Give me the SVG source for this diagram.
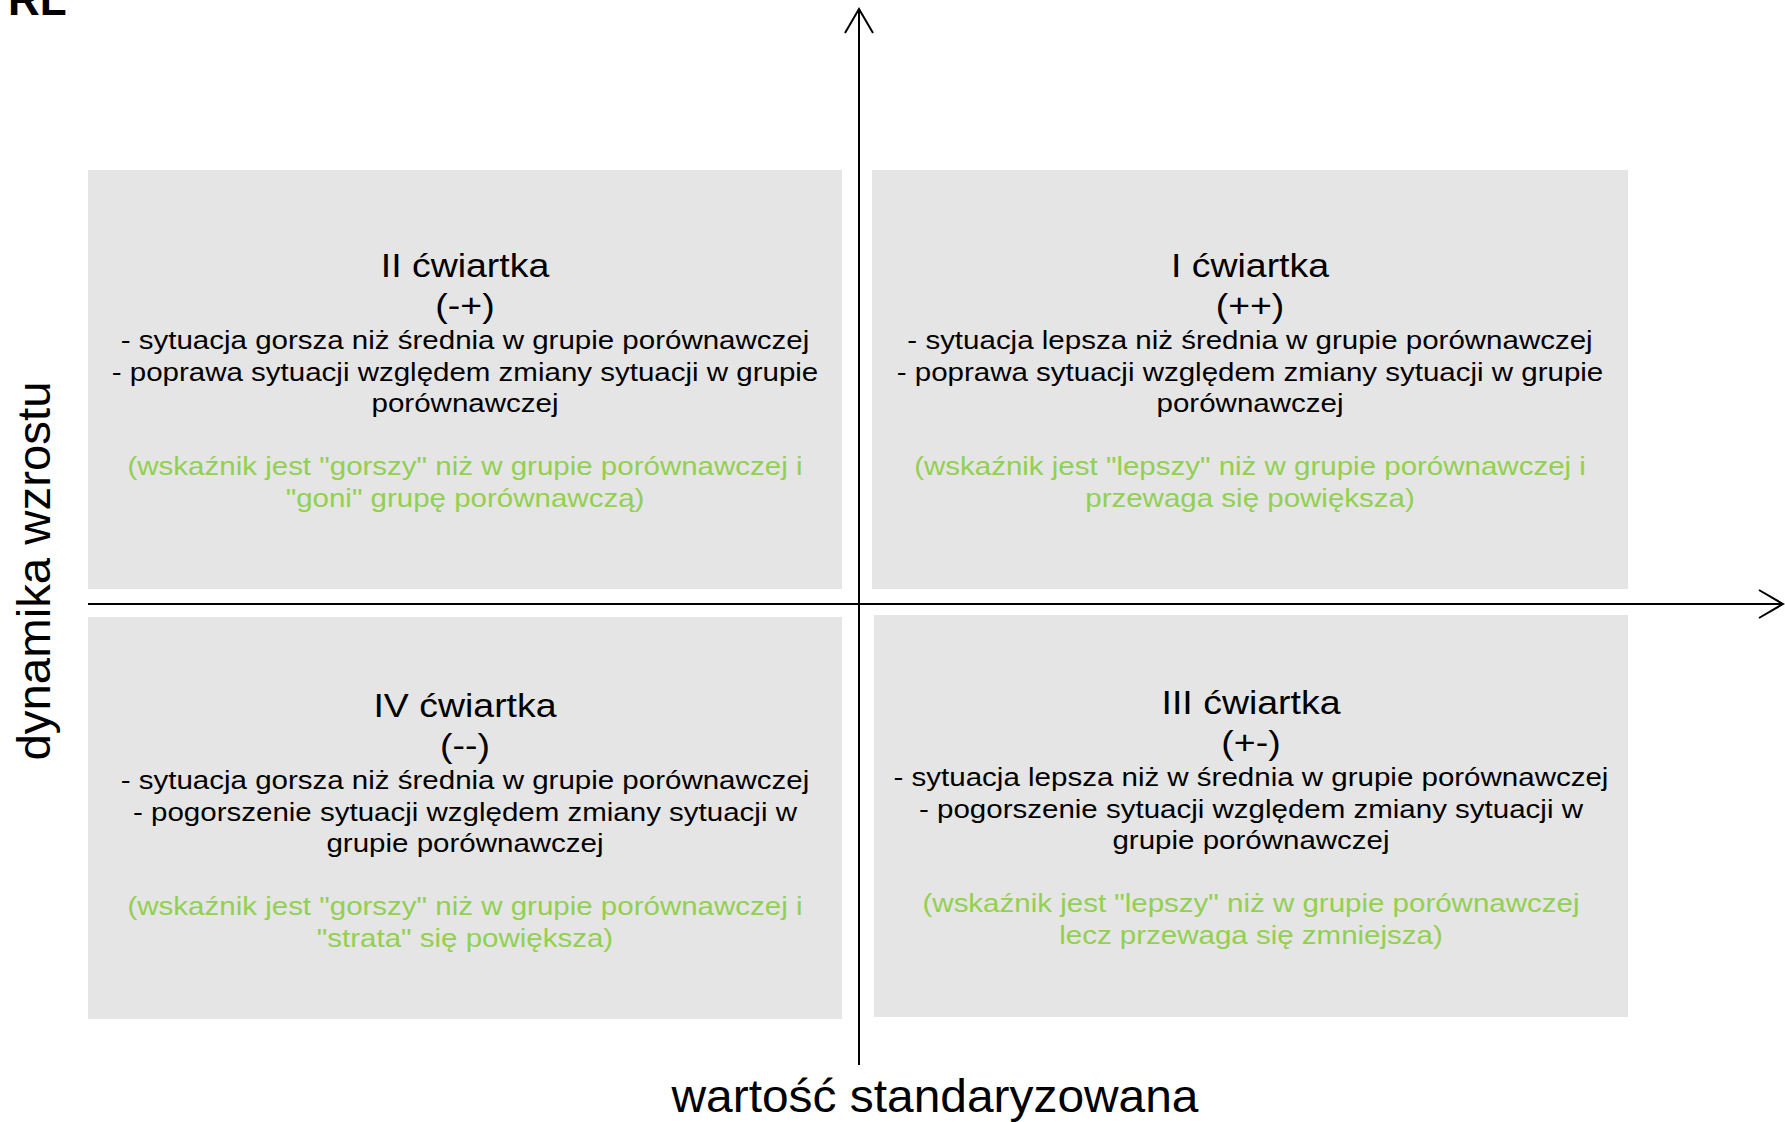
<svg xmlns="http://www.w3.org/2000/svg" width="1785" height="1122" viewBox="0 0 1785 1122">
<style>
  .box { fill: #E5E5E5; }
  text { font-family: "Liberation Sans", Arial, sans-serif; }
  .t { font-size: 33px; fill: #000; text-anchor: middle; }
  .b { font-size: 26px; fill: #000; text-anchor: middle; }
  .g { font-size: 26px; fill: #92D050; text-anchor: middle; }
  .axis { stroke: #000; stroke-width: 2; fill: none; }
  .lbl { font-size: 46px; fill: #000; text-anchor: middle; }
</style>
<defs>
  <marker id="arr" markerUnits="userSpaceOnUse" markerWidth="40" markerHeight="40" viewBox="-30 -20 40 40" refX="0" refY="0" orient="auto">
    <path d="M -24 -14 L 0 0 L -24 14" fill="none" stroke="#000" stroke-width="2"/>
  </marker>
</defs>
<rect width="1785" height="1122" fill="#fff"/>

<g id="q2">
  <rect class="box" x="88" y="170" width="754" height="419"/>
  <g transform="translate(465,0) scale(1.135,1)">
    <text class="t" x="0" y="277">II ćwiartka</text>
    <text class="t" x="0" y="317">(-+)</text>
    <text class="b" x="0" y="349">- sytuacja gorsza niż średnia w grupie porównawczej</text>
    <text class="b" x="0" y="381">- poprawa sytuacji względem zmiany sytuacji w grupie</text>
    <text class="b" x="0" y="412">porównawczej</text>
    <text class="g" x="0" y="475">(wskaźnik jest "gorszy" niż w grupie porównawczej i</text>
    <text class="g" x="0" y="507">"goni" grupę porównawczą)</text>
  </g>
</g>

<g id="q1">
  <rect class="box" x="872" y="170" width="756" height="419"/>
  <g transform="translate(1250,0) scale(1.135,1)">
    <text class="t" x="0" y="277">I ćwiartka</text>
    <text class="t" x="0" y="317">(++)</text>
    <text class="b" x="0" y="349">- sytuacja lepsza niż średnia w grupie porównawczej</text>
    <text class="b" x="0" y="381">- poprawa sytuacji względem zmiany sytuacji w grupie</text>
    <text class="b" x="0" y="412">porównawczej</text>
    <text class="g" x="0" y="475">(wskaźnik jest "lepszy" niż w grupie porównawczej i</text>
    <text class="g" x="0" y="507">przewaga się powiększa)</text>
  </g>
</g>

<g id="q4">
  <rect class="box" x="88" y="617" width="754" height="402"/>
  <g transform="translate(465,0) scale(1.135,1)">
    <text class="t" x="0" y="717">IV ćwiartka</text>
    <text class="t" x="0" y="757">(--)</text>
    <text class="b" x="0" y="789">- sytuacja gorsza niż średnia w grupie porównawczej</text>
    <text class="b" x="0" y="821">- pogorszenie sytuacji względem zmiany sytuacji w</text>
    <text class="b" x="0" y="852">grupie porównawczej</text>
    <text class="g" x="0" y="915">(wskaźnik jest "gorszy" niż w grupie porównawczej i</text>
    <text class="g" x="0" y="947">"strata" się powiększa)</text>
  </g>
</g>

<g id="q3">
  <rect class="box" x="874" y="615" width="754" height="402"/>
  <g transform="translate(1251,0) scale(1.135,1)">
    <text class="t" x="0" y="714">III ćwiartka</text>
    <text class="t" x="0" y="754">(+-)</text>
    <text class="b" x="0" y="786">- sytuacja lepsza niż w średnia w grupie porównawczej</text>
    <text class="b" x="0" y="818">- pogorszenie sytuacji względem zmiany sytuacji w</text>
    <text class="b" x="0" y="849">grupie porównawczej</text>
    <text class="g" x="0" y="912">(wskaźnik jest "lepszy" niż w grupie porównawczej</text>
    <text class="g" x="0" y="944">lecz przewaga się zmniejsza)</text>
  </g>
</g>

<g id="connectors">
  <line class="axis" x1="859" y1="1065" x2="859" y2="9" marker-end="url(#arr)"/>
  <line class="axis" x1="88" y1="604" x2="1783" y2="604" marker-end="url(#arr)"/>
</g>

<g id="labels">
  <text x="8" y="15" style="font-size:44px;font-weight:bold;fill:#000;">RL</text>
  <text class="lbl" x="935" y="1112" textLength="527" lengthAdjust="spacingAndGlyphs">wartość standaryzowana</text>
  <text class="lbl" transform="translate(50,571) rotate(-90)" x="0" y="0" textLength="379" lengthAdjust="spacingAndGlyphs">dynamika wzrostu</text>
</g>
</svg>
